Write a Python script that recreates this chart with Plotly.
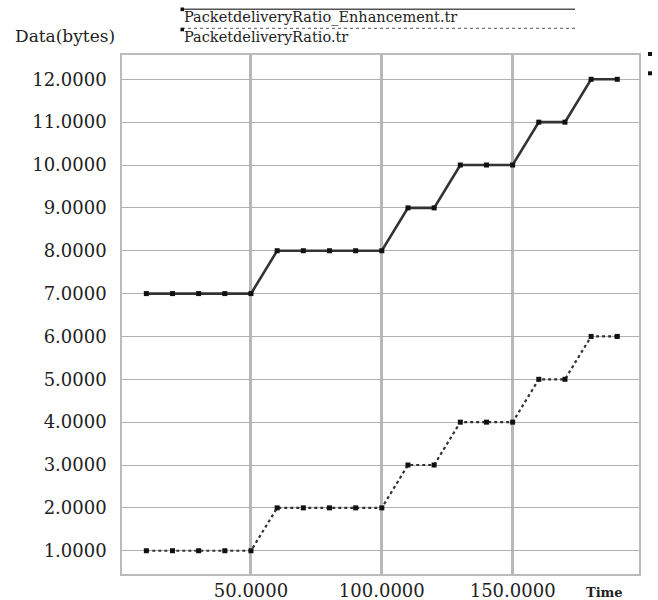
import plotly.graph_objects as go

time = [10, 20, 30, 40, 50, 60, 70, 80, 90, 100, 110, 120, 130, 140, 150, 160, 170, 180, 190]
enhanced = [7, 7, 7, 7, 7, 8, 8, 8, 8, 8, 9, 9, 10, 10, 10, 11, 11, 12, 12]
original = [1, 1, 1, 1, 1, 2, 2, 2, 2, 2, 3, 3, 4, 4, 4, 5, 5, 6, 6]
series_names = ["PacketdeliveryRatio_Enhancement.tr", "PacketdeliveryRatio.tr"]
y_ticks = [1, 2, 3, 4, 5, 6, 7, 8, 9, 10, 11, 12]
x_ticks = [50, 100, 150]

W, H = 658, 600
L, R, T, B = 122, 639, 55, 574.3

def px(x):
    return (x - L) / (R - L)

def py(y):
    return (B - y) / (B - T)

fig = go.Figure()
fig.add_trace(go.Scatter(
    x=time, y=enhanced, mode="lines+markers", name=series_names[0],
    line=dict(color="#333333", width=2.6),
    marker=dict(symbol="square", size=5, color="#111111"),
))
fig.add_trace(go.Scatter(
    x=time, y=original, mode="lines+markers", name=series_names[1],
    line=dict(color="#333333", width=2.2, dash="dot"),
    marker=dict(symbol="square", size=5, color="#111111"),
))

font_family = "DejaVu Serif"
shapes = []
annotations = []
# legend lines
shapes.append(dict(type="line", xref="paper", yref="paper",
                   x0=px(182), x1=px(575), y0=py(9.3), y1=py(9.3),
                   line=dict(color="#555555", width=1.5)))
shapes.append(dict(type="line", xref="paper", yref="paper",
                   x0=px(182), x1=px(575), y0=py(28.3), y1=py(28.3),
                   line=dict(color="#555555", width=1, dash="dot")))
for cy in (9.3, 29.5):
    shapes.append(dict(type="rect", xref="paper", yref="paper",
                       x0=px(180.5), x1=px(184), y0=py(cy + 1.8), y1=py(cy - 1.8),
                       fillcolor="#111111", line=dict(width=0)))
# small cropped markers at right
for cy in (54, 73.3):
    shapes.append(dict(type="rect", xref="paper", yref="paper",
                       x0=px(648), x1=px(652), y0=py(cy + 2), y1=py(cy - 2),
                       fillcolor="#111111", line=dict(width=0)))

annotations.append(dict(text=series_names[0], xref="paper", yref="paper",
                        x=px(182), y=py(17), xanchor="left", yanchor="middle",
                        showarrow=False, font=dict(family=font_family, size=14.5, color="#222222")))
annotations.append(dict(text=series_names[1], xref="paper", yref="paper",
                        x=px(182), y=py(36.5), xanchor="left", yanchor="middle",
                        showarrow=False, font=dict(family=font_family, size=14.5, color="#222222")))
annotations.append(dict(text="Data(bytes)", xref="paper", yref="paper",
                        x=px(13), y=py(35.5), xanchor="left", yanchor="middle",
                        showarrow=False, font=dict(family=font_family, size=17, color="#222222")))
annotations.append(dict(text="<b>Time</b>", xref="paper", yref="paper",
                        x=px(584), y=py(593), xanchor="left", yanchor="middle",
                        showarrow=False, font=dict(family=font_family, size=13, color="#222222")))

fig.update_layout(
    width=W, height=H,
    margin=dict(l=L, r=W - R, t=T, b=H - B, autoexpand=False),
    paper_bgcolor="white", plot_bgcolor="white",
    showlegend=False,
    shapes=shapes, annotations=annotations,
    font=dict(family=font_family, color="#222222"),
)
fig.update_xaxes(
    range=[0.7, 198.3], tickvals=x_ticks, tickformat=".4f", automargin=False,
    showgrid=True, gridcolor="#b8b8b8", gridwidth=2.5,
    zeroline=False, showline=True, linecolor="#bbbbbb", linewidth=1.5, mirror=True,
    ticks="", tickfont=dict(family=font_family, size=18, color="#222222"),
)
fig.update_yaxes(
    range=[0.457, 12.567], tickvals=y_ticks, tickformat=".4f", automargin=False,
    showgrid=True, gridcolor="#b0b0b0", gridwidth=1.2,
    zeroline=False, showline=True, linecolor="#bbbbbb", linewidth=1.5, mirror=True,
    ticks="", ticklabelstandoff=10, tickfont=dict(family=font_family, size=18, color="#222222"),
)

fig.write_html("out.html", config={"displayModeBar": False},
               post_script="document.body.style.margin='0px';document.body.style.overflow='hidden';")
